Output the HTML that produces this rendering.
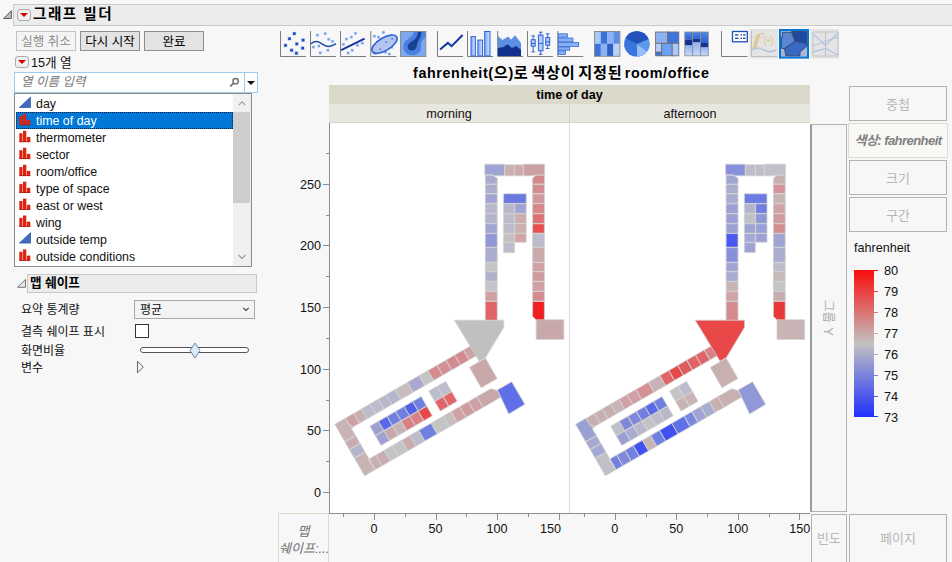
<!DOCTYPE html>
<html lang="ko"><head><meta charset="utf-8"><title>그래프 빌더</title>
<style>
*{box-sizing:border-box;margin:0;padding:0}
html,body{width:952px;height:562px;overflow:hidden;background:#f7f7f7}
body{position:relative;font-family:"Liberation Sans","Noto Sans CJK KR",sans-serif;font-size:12.5px;color:#111}
.a{position:absolute}
.t{position:absolute;white-space:nowrap;line-height:1}
.kr{font-family:"Liberation Sans","Noto Sans CJK KR",sans-serif}
.titlebar{left:13px;top:4px;width:945px;height:22px;background:#ececec;border:1px solid #c9c9c9}
.redbtn{width:14px;height:12px;border:1px solid #ababab;border-radius:3px;background:#efefef}
.redbtn:after{content:"";position:absolute;left:1.7px;top:2.9px;border-left:4.1px solid transparent;border-right:4.1px solid transparent;border-top:4.5px solid #d00000}
.btn{height:20px;border:1px solid #8f8f8f;background:#e3e3e3;text-align:center;font-size:12.5px;line-height:20px;color:#000}
.btn.dis{border-color:#c2c2c2;background:#f4f4f4;color:#8c8c8c}
.zone{border:1px solid #b4b4b4;color:#b6b6b6;text-align:center;font-size:13px}
.k2{font-size:15.2px;letter-spacing:0.75px}
.li{left:36px;font-size:12.4px;color:#111}
svg{position:absolute;left:0;top:0}
</style></head><body>
<!-- title bar -->
<div class="a titlebar"></div>
<div class="a redbtn" style="left:17px;top:9px"></div>
<div class="t kr" style="left:33px;top:6.5px;font-size:14.6px;letter-spacing:1.5px;font-weight:bold;color:#000">그래프 빌더</div>
<!-- buttons -->
<div class="a btn dis kr" style="left:16px;top:31px;width:60px">실행 취소</div>
<div class="a btn kr" style="left:80px;top:31px;width:60px">다시 시작</div>
<div class="a btn kr" style="left:144px;top:31px;width:60px">완료</div>
<div class="a redbtn" style="left:15px;top:56px;width:14px;height:12px"></div>
<div class="t kr" style="left:31px;top:56.5px;font-size:12.6px">15개 열</div>
<!-- search -->
<div class="a" style="left:14px;top:72px;width:244px;height:21px;background:#fff;border:1px solid #9fcdf0"></div>
<div class="a" style="left:244px;top:73px;width:1px;height:19px;background:#9fcdf0"></div>
<div class="t kr" style="left:21px;top:76px;font-size:12.5px;font-style:italic;color:#777">열 이름 입력</div>
<div class="a" style="left:246.800px;top:81px;border-left:4.1px solid transparent;border-right:4.1px solid transparent;border-top:4.4px solid #111"></div>
<!-- list -->
<div class="a" style="left:14px;top:93px;width:238px;height:174px;background:#fff;border:1px solid #8a8a8a"></div>
<div class="a" style="left:233px;top:94px;width:18px;height:172px;background:#f0f0f0"></div>
<div class="a" style="left:233px;top:112px;width:17px;height:91px;background:#cdcdcd"></div>
<div class="t li" style="top:98.3px;">day</div>
<div class="a" style="left:16px;top:112px;width:217px;height:17px;background:#0078d7;border:1px dotted #102040"></div>
<div class="t li" style="top:115.3px;color:#fff;">time of day</div>
<div class="t li" style="top:132.2px;">thermometer</div>
<div class="t li" style="top:149.2px;">sector</div>
<div class="t li" style="top:166.1px;">room/office</div>
<div class="t li" style="top:183.1px;">type of space</div>
<div class="t li" style="top:200.0px;">east or west</div>
<div class="t li" style="top:217.0px;">wing</div>
<div class="t li" style="top:233.9px;">outside temp</div>
<div class="t li" style="top:250.8px;">outside conditions</div>
<!-- map shape section -->
<div class="a" style="left:27px;top:274px;width:230px;height:19px;background:#ececec;border:1px solid #c9c9c9"></div>
<div class="t kr" style="left:30px;top:277px;font-size:12.6px;font-weight:bold;color:#000">맵 쉐이프</div>
<div class="t kr" style="left:21px;top:304px;font-size:12px">요약 통계량</div>
<div class="a" style="left:134px;top:300px;width:121px;height:19px;background:#f3f3f3;border:1px solid #a9a9a9"></div>
<div class="t kr" style="left:140px;top:304px;font-size:12px">평균</div>
<div class="t kr" style="left:21px;top:326px;font-size:12px">결측 쉐이프 표시</div>
<div class="a" style="left:135px;top:324px;width:14px;height:14px;background:#fff;border:1px solid #333"></div>
<div class="t kr" style="left:21px;top:345px;font-size:12px">화면비율</div>
<div class="a" style="left:140px;top:347px;width:109px;height:6px;background:#fff;border:1px solid #555;border-radius:3px"></div>
<div class="t kr" style="left:21px;top:361.5px;font-size:12px">변수</div>
<!-- graph title -->
<div class="t kr" style="left:413px;top:63.8px;height:18px;line-height:18px;font-size:14.3px;letter-spacing:0.62px;word-spacing:-2.2px;font-weight:bold;color:#000">fahrenheit(<span class="k2">으</span>)<span class="k2">로 색상이 지정된</span> room/office</div>
<!-- group header -->
<div class="a" style="left:329px;top:85px;width:481px;height:19px;background:#dbd9ca"></div>
<div class="a" style="left:329px;top:104px;width:481px;height:19px;background:#e8e7df;border-bottom:1px solid #d6d5c8"></div>
<div class="a" style="left:569px;top:104px;width:1px;height:19px;background:#d2d1c4"></div>
<div class="t" style="left:329px;width:481px;text-align:center;top:88.5px;font-size:12.6px;font-weight:bold;color:#000">time of day</div>
<div class="t" style="left:329px;width:240px;text-align:center;top:107.6px;font-size:12.6px">morning</div>
<div class="t" style="left:570px;width:240px;text-align:center;top:107.6px;font-size:12.6px">afternoon</div>
<!-- plot -->
<div class="a" style="left:330px;top:123px;width:480px;height:390px;background:#fff"></div>
<div class="a" style="left:569px;top:123px;width:1px;height:390px;background:#dcdcdc"></div>
<div class="t" style="right:631px;top:486.8px;font-size:12.6px">0</div>
<div class="t" style="right:631px;top:425.2px;font-size:12.6px">50</div>
<div class="t" style="right:631px;top:363.6px;font-size:12.6px">100</div>
<div class="t" style="right:631px;top:302.0px;font-size:12.6px">150</div>
<div class="t" style="right:631px;top:240.4px;font-size:12.6px">200</div>
<div class="t" style="right:631px;top:178.8px;font-size:12.6px">250</div>
<div class="t" style="left:353.9px;width:40px;text-align:center;top:522.5px;font-size:12.6px">0</div>
<div class="t" style="left:415.5px;width:40px;text-align:center;top:522.5px;font-size:12.6px">50</div>
<div class="t" style="left:477.0px;width:40px;text-align:center;top:522.5px;font-size:12.6px">100</div>
<div class="t" style="left:530.4px;width:40px;text-align:center;top:522.5px;font-size:12.6px">150</div>
<div class="t" style="left:594.7px;width:40px;text-align:center;top:522.5px;font-size:12.6px">0</div>
<div class="t" style="left:656.3px;width:40px;text-align:center;top:522.5px;font-size:12.6px">50</div>
<div class="t" style="left:717.8px;width:40px;text-align:center;top:522.5px;font-size:12.6px">100</div>
<div class="t" style="left:779.7px;width:40px;text-align:center;top:522.5px;font-size:12.6px">150</div>
<!-- drop zones -->
<div class="a zone kr" style="left:849px;top:86px;width:98px;height:35px;line-height:35px">중첩</div>
<div class="a kr" style="left:848px;top:123px;width:100px;height:35px;border:1px solid #dcdccc;background:#f8f8f5;text-align:center;line-height:33px;font-size:13px;font-style:italic;font-weight:bold;color:#808080;letter-spacing:-0.55px">색상: fahrenheit</div>
<div class="a zone kr" style="left:849px;top:160px;width:98px;height:35px;line-height:35px">크기</div>
<div class="a zone kr" style="left:849px;top:197px;width:98px;height:35px;line-height:35px">구간</div>
<div class="a zone" style="left:810px;top:124px;width:37px;height:388px;border-left:2px solid #9a9a9a"></div>
<div class="t kr" style="left:819.5px;top:311px;font-size:12.5px;color:#a9a9a9;word-spacing:1px;transform:rotate(90deg);transform-origin:center;width:14px;height:14px"><span style="position:absolute;left:-13px;top:0;width:40px;text-align:center">그룹 Y</span></div>
<div class="a zone kr" style="left:811px;top:514px;width:36px;height:49px;line-height:47px">빈도</div>
<div class="a zone kr" style="left:849px;top:514px;width:98px;height:49px;line-height:47px">페이지</div>
<div class="a kr" style="left:278px;top:513px;width:51px;height:50px;border:1px solid #dcdccc;text-align:center;font-size:13px;font-style:italic;color:#6e6e6e;line-height:17px;padding-top:8.5px;white-space:nowrap;letter-spacing:0px">맵<br>쉐이프:...</div>
<div class="t" style="left:854px;top:242px;font-size:12.6px">fahrenheit</div>
<div class="a" style="left:854px;top:270px;width:20px;height:147px;background:linear-gradient(#fb0c0c 0%,#c2c2c2 50%,#2030fb 100%)"></div>
<div class="a" style="left:874px;top:270px;width:4px;height:1px;background:#fb0c0c"></div>
<div class="t" style="left:884px;top:265.2px;font-size:12.8px">80</div>
<div class="a" style="left:874px;top:291px;width:4px;height:1px;background:#ea4040"></div>
<div class="t" style="left:884px;top:286.1px;font-size:12.8px">79</div>
<div class="a" style="left:874px;top:312px;width:4px;height:1px;background:#da7474"></div>
<div class="t" style="left:884px;top:307.1px;font-size:12.8px">78</div>
<div class="a" style="left:874px;top:333px;width:4px;height:1px;background:#caa8a8"></div>
<div class="t" style="left:884px;top:328.0px;font-size:12.8px">77</div>
<div class="a" style="left:874px;top:354px;width:4px;height:1px;background:#aaadca"></div>
<div class="t" style="left:884px;top:348.9px;font-size:12.8px">76</div>
<div class="a" style="left:874px;top:375px;width:4px;height:1px;background:#7c83da"></div>
<div class="t" style="left:884px;top:369.8px;font-size:12.8px">75</div>
<div class="a" style="left:874px;top:396px;width:4px;height:1px;background:#4e59ea"></div>
<div class="t" style="left:884px;top:390.8px;font-size:12.8px">74</div>
<div class="a" style="left:874px;top:416px;width:4px;height:1px;background:#2030fb"></div>
<div class="t" style="left:884px;top:411.7px;font-size:12.8px">73</div>
<svg width="952" height="562" viewBox="0 0 952 562">
<!-- disclosure triangles -->
<polygon points="3.6,18.5 11.4,18.5 11.4,10.700" fill="#bdbdbd" stroke="#5e5e5e" stroke-width="1"/>
<polygon points="17.600,287.300 25.5,287.300 25.5,279.400" fill="#e6e6e6" stroke="#6a6a6a" stroke-width="0.9"/>
<!-- search glass -->
<circle cx="235.6" cy="81.200" r="2.7" fill="none" stroke="#6c6c6c" stroke-width="1.4"/><line x1="233.6" y1="83.3" x2="230" y2="86.300" stroke="#6c6c6c" stroke-width="1.7"/>
<!-- scrollbar arrows -->
<polyline points="238.700,105.2 242,101.800 245.300,105.2" fill="none" stroke="#a0a0a0" stroke-width="1.2"/>
<polyline points="238.5,255 242,258.5 245.5,255" fill="none" stroke="#9a9a9a" stroke-width="1.1"/>
<!-- combobox chevron -->
<polyline points="243.300,307.800 246,310.500 248.700,307.800" fill="none" stroke="#3c3c3c" stroke-width="1.1"/>
<!-- slider thumb -->
<polygon points="195,343 200,350.5 195,358 190,350.5" fill="#dbe9f7" stroke="#5b7fa8" stroke-width="0.9"/>
<!-- var triangle -->
<polygon points="137.500,361.200 143.300,367 137.500,372.800" fill="#f4f4f4" stroke="#666" stroke-width="1"/>
<polygon points="19.4,107.5 30.5,107.5 30.5,97.1" fill="#3f6cc0" stroke="#27509e" stroke-width="0.7"/>
<rect x="19.3" y="116.2" width="3.2" height="8.8" fill="#de2410"/><rect x="23" y="113.9" width="3.3" height="11.2" fill="#de2410"/><rect x="26.800" y="120.0" width="3.5" height="5" fill="#de2410"/><rect x="19.3" y="124.5" width="11" height="0.8" fill="#a81808"/>
<rect x="19.3" y="133.2" width="3.2" height="8.8" fill="#de2410"/><rect x="23" y="130.8" width="3.3" height="11.2" fill="#de2410"/><rect x="26.800" y="137.0" width="3.5" height="5" fill="#de2410"/><rect x="19.3" y="141.4" width="11" height="0.8" fill="#a81808"/>
<rect x="19.3" y="150.2" width="3.2" height="8.8" fill="#de2410"/><rect x="23" y="147.8" width="3.3" height="11.2" fill="#de2410"/><rect x="26.800" y="153.9" width="3.5" height="5" fill="#de2410"/><rect x="19.3" y="158.3" width="11" height="0.8" fill="#a81808"/>
<rect x="19.3" y="167.1" width="3.2" height="8.8" fill="#de2410"/><rect x="23" y="164.7" width="3.3" height="11.2" fill="#de2410"/><rect x="26.800" y="170.9" width="3.5" height="5" fill="#de2410"/><rect x="19.3" y="175.3" width="11" height="0.8" fill="#a81808"/>
<rect x="19.3" y="184.1" width="3.2" height="8.8" fill="#de2410"/><rect x="23" y="181.7" width="3.3" height="11.2" fill="#de2410"/><rect x="26.800" y="187.8" width="3.5" height="5" fill="#de2410"/><rect x="19.3" y="192.2" width="11" height="0.8" fill="#a81808"/>
<rect x="19.3" y="201.0" width="3.2" height="8.8" fill="#de2410"/><rect x="23" y="198.6" width="3.3" height="11.2" fill="#de2410"/><rect x="26.800" y="204.8" width="3.5" height="5" fill="#de2410"/><rect x="19.3" y="209.2" width="11" height="0.8" fill="#a81808"/>
<rect x="19.3" y="217.9" width="3.2" height="8.8" fill="#de2410"/><rect x="23" y="215.5" width="3.3" height="11.2" fill="#de2410"/><rect x="26.800" y="221.7" width="3.5" height="5" fill="#de2410"/><rect x="19.3" y="226.1" width="11" height="0.8" fill="#a81808"/>
<polygon points="19.4,243.1 30.5,243.1 30.5,232.7" fill="#3f6cc0" stroke="#27509e" stroke-width="0.7"/>
<rect x="19.3" y="251.8" width="3.2" height="8.8" fill="#de2410"/><rect x="23" y="249.4" width="3.3" height="11.2" fill="#de2410"/><rect x="26.800" y="255.6" width="3.5" height="5" fill="#de2410"/><rect x="19.3" y="260.0" width="11" height="0.8" fill="#a81808"/>
<line x1="329.5" y1="123" x2="329.5" y2="513.5" stroke="#8c8c8c"/>
<line x1="329" y1="513.5" x2="810" y2="513.5" stroke="#8c8c8c"/>
<line x1="323" y1="492.5" x2="329" y2="492.5" stroke="#8c8c8c"/>
<line x1="326" y1="461.5" x2="329" y2="461.5" stroke="#8c8c8c"/>
<line x1="323" y1="430.5" x2="329" y2="430.5" stroke="#8c8c8c"/>
<line x1="326" y1="400.5" x2="329" y2="400.5" stroke="#8c8c8c"/>
<line x1="323" y1="369.5" x2="329" y2="369.5" stroke="#8c8c8c"/>
<line x1="326" y1="338.5" x2="329" y2="338.5" stroke="#8c8c8c"/>
<line x1="323" y1="307.5" x2="329" y2="307.5" stroke="#8c8c8c"/>
<line x1="326" y1="276.5" x2="329" y2="276.5" stroke="#8c8c8c"/>
<line x1="323" y1="245.5" x2="329" y2="245.5" stroke="#8c8c8c"/>
<line x1="326" y1="215.5" x2="329" y2="215.5" stroke="#8c8c8c"/>
<line x1="323" y1="184.5" x2="329" y2="184.5" stroke="#8c8c8c"/>
<line x1="326" y1="153.5" x2="329" y2="153.5" stroke="#8c8c8c"/>
<line x1="343.5" y1="514" x2="343.5" y2="517" stroke="#8c8c8c"/>
<line x1="374.5" y1="514" x2="374.5" y2="520" stroke="#8c8c8c"/>
<line x1="405.5" y1="514" x2="405.5" y2="517" stroke="#8c8c8c"/>
<line x1="436.5" y1="514" x2="436.5" y2="520" stroke="#8c8c8c"/>
<line x1="466.5" y1="514" x2="466.5" y2="517" stroke="#8c8c8c"/>
<line x1="497.5" y1="514" x2="497.5" y2="520" stroke="#8c8c8c"/>
<line x1="528.5" y1="514" x2="528.5" y2="517" stroke="#8c8c8c"/>
<line x1="559.5" y1="514" x2="559.5" y2="520" stroke="#8c8c8c"/>
<line x1="584.5" y1="514" x2="584.5" y2="517" stroke="#8c8c8c"/>
<line x1="615.5" y1="514" x2="615.5" y2="520" stroke="#8c8c8c"/>
<line x1="646.5" y1="514" x2="646.5" y2="517" stroke="#8c8c8c"/>
<line x1="676.5" y1="514" x2="676.5" y2="520" stroke="#8c8c8c"/>
<line x1="707.5" y1="514" x2="707.5" y2="517" stroke="#8c8c8c"/>
<line x1="738.5" y1="514" x2="738.5" y2="520" stroke="#8c8c8c"/>
<line x1="769.5" y1="514" x2="769.5" y2="517" stroke="#8c8c8c"/>
<line x1="799.5" y1="514" x2="799.5" y2="520" stroke="#8c8c8c"/>
<g stroke="#d0d0d0" stroke-width="0.8" stroke-linejoin="round">
<polygon points="484.8,164.2 504.4,164.2 504.4,175.8 494.5,175.8 492.5,174.8 484.8,174.8" fill="#a0a4d4"/>
<polygon points="504.9,164.8 514.2,164.8 514.2,175.8 504.9,175.8" fill="#ccb0b0"/>
<polygon points="514.7,164.8 523.2,164.8 523.2,175.8 514.7,175.8" fill="#ccaaac"/>
<polygon points="523.7,164.2 544.6,164.2 544.6,175.0 535.0,175.0 533.0,175.8 523.7,175.8" fill="#cca0a2"/>
<polygon points="485.3,175.2 492.5,175.2 497.2,178.2 497.2,184.0 485.3,184.0" fill="#a8a8d0"/>
<polygon points="532.6,178.2 536.0,175.2 544.4,175.2 544.4,184.0 532.6,184.0" fill="#d4888c"/>
<polygon points="485.3,184.4 497.2,184.4 497.2,193.6 485.3,193.6" fill="#acaccc"/>
<polygon points="532.6,184.4 544.4,184.4 544.4,193.6 532.6,193.6" fill="#d48c90"/>
<polygon points="485.3,194.0 497.2,194.0 497.2,203.4 485.3,203.4" fill="#a4a4d4"/>
<polygon points="532.6,194.0 544.4,194.0 544.4,203.4 532.6,203.4" fill="#d09a9c"/>
<polygon points="485.3,203.8 497.2,203.8 497.2,213.4 485.3,213.4" fill="#b8b8cc"/>
<polygon points="532.6,203.8 544.4,203.8 544.4,213.4 532.6,213.4" fill="#d8868a"/>
<polygon points="485.3,213.8 497.2,213.8 497.2,223.4 485.3,223.4" fill="#b4b4cc"/>
<polygon points="532.6,213.8 544.4,213.8 544.4,223.4 532.6,223.4" fill="#dc7074"/>
<polygon points="485.3,223.8 497.2,223.8 497.2,233.2 485.3,233.2" fill="#a0a4d4"/>
<polygon points="532.6,223.8 544.4,223.8 544.4,233.2 532.6,233.2" fill="#e85050"/>
<polygon points="485.3,233.6 497.2,233.6 497.2,247.2 485.3,247.2" fill="#9098d8"/>
<polygon points="532.6,233.6 544.4,233.6 544.4,247.2 532.6,247.2" fill="#bcbccc"/>
<polygon points="485.3,247.6 497.2,247.6 497.2,262.2 485.3,262.2" fill="#acacd0"/>
<polygon points="532.6,247.6 544.4,247.6 544.4,262.2 532.6,262.2" fill="#ccaaac"/>
<polygon points="485.3,262.6 497.2,262.6 497.2,271.4 485.3,271.4" fill="#c4c4c4"/>
<polygon points="532.6,262.6 544.4,262.6 544.4,271.4 532.6,271.4" fill="#d0a0a4"/>
<polygon points="485.3,271.8 497.2,271.8 497.2,281.2 485.3,281.2" fill="#b0b0cc"/>
<polygon points="532.6,271.8 544.4,271.8 544.4,281.2 532.6,281.2" fill="#d09a9e"/>
<polygon points="485.3,281.6 497.2,281.6 497.2,291.2 485.3,291.2" fill="#c4c4c8"/>
<polygon points="532.6,281.6 544.4,281.6 544.4,291.2 532.6,291.2" fill="#d0a0a4"/>
<polygon points="485.3,291.6 497.2,291.6 497.2,301.0 485.3,301.0" fill="#d0a0a4"/>
<polygon points="532.6,291.6 544.4,291.6 544.4,301.0 532.6,301.0" fill="#d48a8e"/>
<polygon points="485.3,301.4 497.2,301.4 497.2,320.6 485.3,320.6" fill="#e06468"/>
<polygon points="532.6,301.4 544.4,301.4 544.4,320.6 536.6,320.6 532.6,316.2" fill="#f02020"/>
<polygon points="503.6,193.8 526.2,193.8 526.2,203.4 503.6,203.4" fill="#6a78e0"/>
<polygon points="503.6,203.8 514.5,203.8 514.5,213.4 503.6,213.4" fill="#b8b8cc"/>
<polygon points="514.9,203.8 526.2,203.8 526.2,213.4 514.9,213.4" fill="#a0a4d4"/>
<polygon points="503.6,213.8 514.5,213.8 514.5,223.4 503.6,223.4" fill="#bcbccc"/>
<polygon points="514.9,213.8 526.2,213.8 526.2,223.4 514.9,223.4" fill="#ccacae"/>
<polygon points="503.6,223.8 514.5,223.8 514.5,233.2 503.6,233.2" fill="#bcbccc"/>
<polygon points="514.9,223.8 526.2,223.8 526.2,233.2 514.9,233.2" fill="#ccb0b0"/>
<polygon points="503.6,233.6 514.5,233.6 514.5,242.2 503.6,242.2" fill="#c8c0c0"/>
<polygon points="514.9,233.6 526.2,233.6 526.2,242.2 514.9,242.2" fill="#d0a4a6"/>
<polygon points="503.6,242.6 514.5,242.6 514.5,252.6 503.6,252.6" fill="#bcbccc"/>
<polygon points="536.2,319.8 563.8,319.8 563.8,339.4 536.2,339.4" fill="#c8a8a8"/>
<polygon points="334.8,424.3 345.2,418.3 349.4,425.7 353.7,427.0 351.4,428.4 355.5,435.5 344.8,441.6" fill="#c8b4b4"/>
<polygon points="345.0,442.0 355.7,435.8 360.0,443.3 349.3,449.4" fill="#c8acb0"/>
<polygon points="349.5,449.8 360.2,443.6 365.0,451.9 354.3,458.1" fill="#b4b4cc"/>
<polygon points="354.5,458.4 365.2,452.3 368.9,458.7 368.2,459.0 375.1,469.7 364.6,475.8" fill="#c8b4b4"/>
<polygon points="345.5,418.2 353.6,413.4 359.3,423.3 353.7,426.6 349.6,425.3" fill="#d0a0a4"/>
<polygon points="353.8,413.4 361.5,408.9 367.2,418.8 359.5,423.2" fill="#c8b0b0"/>
<polygon points="361.6,408.8 369.9,404.1 375.6,413.9 367.3,418.7" fill="#bcbccc"/>
<polygon points="370.0,403.9 378.1,399.3 383.8,409.2 375.7,413.8" fill="#bcbccc"/>
<polygon points="378.3,399.2 386.2,394.7 391.9,404.5 384.0,409.1" fill="#b8b8cc"/>
<polygon points="386.3,394.6 395.0,389.6 400.7,399.4 392.0,404.4" fill="#b4b4d0"/>
<polygon points="395.2,389.5 407.4,382.4 413.1,392.3 400.9,399.3" fill="#c8bcbc"/>
<polygon points="407.5,382.3 419.0,375.7 424.7,385.6 413.2,392.2" fill="#a8a8d0"/>
<polygon points="419.2,375.6 427.9,370.6 433.6,380.4 424.9,385.5" fill="#c4c4c4"/>
<polygon points="428.1,370.5 436.8,365.4 442.5,375.3 433.8,380.3" fill="#d48a8e"/>
<polygon points="437.0,365.3 445.8,360.2 451.5,370.1 442.7,375.2" fill="#d49094"/>
<polygon points="446.0,360.1 454.7,355.1 460.4,365.0 451.7,370.0" fill="#d48a8e"/>
<polygon points="454.8,355.0 463.4,350.1 469.1,359.9 460.5,364.9" fill="#d48a8e"/>
<polygon points="463.6,350.0 476.2,342.7 481.9,352.5 469.3,359.8" fill="#d0a0a4"/>
<polygon points="369.2,458.9 375.8,455.1 382.0,465.8 375.4,469.6" fill="#c8b0b0"/>
<polygon points="376.0,455.0 384.1,450.4 390.2,461.0 382.1,465.7" fill="#c8acb0"/>
<polygon points="384.3,450.3 392.3,445.6 398.5,456.2 390.4,460.9" fill="#c4c4c4"/>
<polygon points="392.5,445.5 401.5,440.3 407.7,450.9 398.7,456.1" fill="#c4c4c4"/>
<polygon points="401.7,440.2 409.8,435.5 415.9,446.2 407.9,450.8" fill="#c8acb0"/>
<polygon points="409.9,435.4 418.7,430.4 424.8,441.0 416.1,446.1" fill="#bcbccc"/>
<polygon points="418.8,430.3 431.0,423.3 437.1,433.9 425.0,440.9" fill="#7080e0"/>
<polygon points="431.1,423.2 443.2,416.2 449.3,426.9 437.3,433.8" fill="#c4c4c4"/>
<polygon points="443.4,416.1 451.0,411.7 457.1,422.4 449.5,426.8" fill="#c8bcbc"/>
<polygon points="451.2,411.6 459.6,406.7 465.8,417.4 457.3,422.3" fill="#d0a0a4"/>
<polygon points="459.8,406.6 468.3,401.7 474.4,412.4 466.0,417.3" fill="#d09a9e"/>
<polygon points="468.5,401.6 477.0,396.7 483.1,407.4 474.6,412.3" fill="#d0a0a4"/>
<polygon points="477.1,396.6 490.9,388.7 497.1,390.6 500.9,397.1 483.3,407.3" fill="#c8a8a8"/>
<polygon points="369.9,426.2 378.3,421.3 383.7,430.7 375.3,435.5" fill="#a0a0d0"/>
<polygon points="375.5,435.9 383.9,431.0 389.4,440.6 381.0,445.4" fill="#a0a0d4"/>
<polygon points="378.5,421.2 386.9,416.4 392.3,425.7 383.9,430.6" fill="#5868e8"/>
<polygon points="384.1,430.9 392.5,426.1 398.0,435.6 389.6,440.5" fill="#c8a8ac"/>
<polygon points="387.1,416.3 395.5,411.4 400.9,420.8 392.5,425.6" fill="#7080e0"/>
<polygon points="392.7,426.0 401.1,421.1 406.6,430.7 398.2,435.5" fill="#c8b4b4"/>
<polygon points="395.7,411.3 404.1,406.5 409.5,415.8 401.1,420.7" fill="#7080e0"/>
<polygon points="401.3,421.0 409.7,416.2 415.2,425.7 406.8,430.6" fill="#d88084"/>
<polygon points="404.2,406.4 412.6,401.5 418.0,410.9 409.6,415.7" fill="#5060e8"/>
<polygon points="409.8,416.1 418.2,411.2 423.7,420.8 415.3,425.6" fill="#d88084"/>
<polygon points="412.8,401.4 421.2,396.6 426.6,405.9 418.2,410.8" fill="#7080e0"/>
<polygon points="418.4,411.1 426.8,406.3 432.3,415.8 423.9,420.7" fill="#e84848"/>
<polygon points="428.8,391.1 437.0,386.4 442.8,396.4 434.6,401.1" fill="#bcbccc"/>
<polygon points="437.4,386.2 445.7,381.4 451.5,391.4 443.1,396.2" fill="#bcbccc"/>
<polygon points="434.8,401.5 443.0,396.7 448.5,406.3 440.3,411.1" fill="#e06468"/>
<polygon points="443.3,396.5 451.7,391.7 457.2,401.3 448.9,406.1" fill="#e06468"/>
<polygon points="469.5,367.4 485.4,358.2 497.1,378.5 481.2,387.7" fill="#c8a8a8"/>
<polygon points="511.7,381.8 524.8,404.3 508.8,414.0 497.4,389.9" fill="#6070e8"/>
<polygon points="454.4,320.2 503.8,320.2 503.8,327.2 485.6,357.6 479.2,361.2" fill="#c0c0c0"/>
</g>
<g stroke="#d0d0d0" stroke-width="0.8" stroke-linejoin="round">
<polygon points="725.6,164.2 745.2,164.2 745.2,175.8 735.3,175.8 733.3,174.8 725.6,174.8" fill="#8890dc"/>
<polygon points="745.7,164.8 755.0,164.8 755.0,175.8 745.7,175.8" fill="#bcbccc"/>
<polygon points="755.5,164.8 764.0,164.8 764.0,175.8 755.5,175.8" fill="#bebec8"/>
<polygon points="764.5,164.2 785.4,164.2 785.4,175.0 775.8,175.0 773.8,175.8 764.5,175.8" fill="#c0c0c8"/>
<polygon points="726.1,175.2 733.3,175.2 738.0,178.2 738.0,184.0 726.1,184.0" fill="#a0a4d4"/>
<polygon points="773.4,178.2 776.8,175.2 785.2,175.2 785.2,184.0 773.4,184.0" fill="#c8b0b0"/>
<polygon points="726.1,184.4 738.0,184.4 738.0,193.6 726.1,193.6" fill="#acacd0"/>
<polygon points="773.4,184.4 785.2,184.4 785.2,193.6 773.4,193.6" fill="#d49498"/>
<polygon points="726.1,194.0 738.0,194.0 738.0,203.4 726.1,203.4" fill="#a8acd0"/>
<polygon points="773.4,194.0 785.2,194.0 785.2,203.4 773.4,203.4" fill="#c8b4b4"/>
<polygon points="726.1,203.8 738.0,203.8 738.0,213.4 726.1,213.4" fill="#9ca0d4"/>
<polygon points="773.4,203.8 785.2,203.8 785.2,213.4 773.4,213.4" fill="#d0a4a6"/>
<polygon points="726.1,213.8 738.0,213.8 738.0,223.4 726.1,223.4" fill="#9ca0d4"/>
<polygon points="773.4,213.8 785.2,213.8 785.2,223.4 773.4,223.4" fill="#d09a9e"/>
<polygon points="726.1,223.8 738.0,223.8 738.0,233.2 726.1,233.2" fill="#98a0d4"/>
<polygon points="773.4,223.8 785.2,223.8 785.2,233.2 773.4,233.2" fill="#d48c90"/>
<polygon points="726.1,233.6 738.0,233.6 738.0,247.2 726.1,247.2" fill="#4858f0"/>
<polygon points="773.4,233.6 785.2,233.6 785.2,247.2 773.4,247.2" fill="#a0a4d4"/>
<polygon points="726.1,247.6 738.0,247.6 738.0,262.2 726.1,262.2" fill="#8890dc"/>
<polygon points="773.4,247.6 785.2,247.6 785.2,262.2 773.4,262.2" fill="#acacd0"/>
<polygon points="726.1,262.6 738.0,262.6 738.0,271.4 726.1,271.4" fill="#a0a4d4"/>
<polygon points="773.4,262.6 785.2,262.6 785.2,271.4 773.4,271.4" fill="#bcbccc"/>
<polygon points="726.1,271.8 738.0,271.8 738.0,281.2 726.1,281.2" fill="#a8acd0"/>
<polygon points="773.4,271.8 785.2,271.8 785.2,281.2 773.4,281.2" fill="#c8b8b8"/>
<polygon points="726.1,281.6 738.0,281.6 738.0,291.2 726.1,291.2" fill="#c8b4b4"/>
<polygon points="773.4,281.6 785.2,281.6 785.2,291.2 773.4,291.2" fill="#c4c4c4"/>
<polygon points="726.1,291.6 738.0,291.6 738.0,301.0 726.1,301.0" fill="#d0a4a6"/>
<polygon points="773.4,291.6 785.2,291.6 785.2,301.0 773.4,301.0" fill="#c8acb0"/>
<polygon points="726.1,301.4 738.0,301.4 738.0,320.6 726.1,320.6" fill="#d48a8e"/>
<polygon points="773.4,301.4 785.2,301.4 785.2,320.6 777.4,320.6 773.4,316.2" fill="#e83838"/>
<polygon points="744.4,193.8 767.0,193.8 767.0,203.4 744.4,203.4" fill="#6c7ce4"/>
<polygon points="744.4,203.8 755.3,203.8 755.3,213.4 744.4,213.4" fill="#b4b4cc"/>
<polygon points="755.7,203.8 767.0,203.8 767.0,213.4 755.7,213.4" fill="#7080e0"/>
<polygon points="744.4,213.8 755.3,213.8 755.3,223.4 744.4,223.4" fill="#c0c0c8"/>
<polygon points="755.7,213.8 767.0,213.8 767.0,223.4 755.7,223.4" fill="#9098d8"/>
<polygon points="744.4,223.8 755.3,223.8 755.3,233.2 744.4,233.2" fill="#a0a4d4"/>
<polygon points="755.7,223.8 767.0,223.8 767.0,233.2 755.7,233.2" fill="#98a0d8"/>
<polygon points="744.4,233.6 755.3,233.6 755.3,242.2 744.4,242.2" fill="#a4a8d4"/>
<polygon points="755.7,233.6 767.0,233.6 767.0,242.2 755.7,242.2" fill="#9ca0d4"/>
<polygon points="744.4,242.6 755.3,242.6 755.3,252.6 744.4,252.6" fill="#a0a4d4"/>
<polygon points="777.0,319.8 804.6,319.8 804.6,339.4 777.0,339.4" fill="#c8b4b4"/>
<polygon points="575.6,424.3 586.0,418.3 590.2,425.7 594.5,427.0 592.2,428.4 596.3,435.5 585.6,441.6" fill="#9aa0d4"/>
<polygon points="585.8,442.0 596.5,435.8 600.8,443.3 590.1,449.4" fill="#a8a8d0"/>
<polygon points="590.3,449.8 601.0,443.6 605.8,451.9 595.1,458.1" fill="#a4a8d4"/>
<polygon points="595.3,458.4 606.0,452.3 609.7,458.7 609.0,459.0 615.9,469.7 605.4,475.8" fill="#c0c0c8"/>
<polygon points="586.3,418.2 594.4,413.4 600.1,423.3 594.5,426.6 590.4,425.3" fill="#c8b0b0"/>
<polygon points="594.6,413.4 602.3,408.9 608.0,418.8 600.3,423.2" fill="#c8b0b0"/>
<polygon points="602.4,408.8 610.7,404.1 616.4,413.9 608.1,418.7" fill="#c8b0b0"/>
<polygon points="610.8,403.9 618.9,399.3 624.6,409.2 616.5,413.8" fill="#c8b4b4"/>
<polygon points="619.1,399.2 627.0,394.7 632.7,404.5 624.8,409.1" fill="#d0a0a4"/>
<polygon points="627.1,394.6 635.8,389.6 641.5,399.4 632.8,404.4" fill="#d0a0a4"/>
<polygon points="636.0,389.5 648.2,382.4 653.9,392.3 641.7,399.3" fill="#d49094"/>
<polygon points="648.3,382.3 659.8,375.7 665.5,385.6 654.0,392.2" fill="#c8b4b4"/>
<polygon points="660.0,375.6 668.7,370.6 674.4,380.4 665.7,385.5" fill="#e06468"/>
<polygon points="668.9,370.5 677.6,365.4 683.3,375.3 674.6,380.3" fill="#e84848"/>
<polygon points="677.8,365.3 686.6,360.2 692.3,370.1 683.5,375.2" fill="#e05a5e"/>
<polygon points="686.8,360.1 695.5,355.1 701.2,365.0 692.5,370.0" fill="#e06468"/>
<polygon points="695.6,355.0 704.2,350.1 709.9,359.9 701.3,364.9" fill="#e06468"/>
<polygon points="704.4,350.0 717.0,342.7 722.7,352.5 710.1,359.8" fill="#d88084"/>
<polygon points="610.0,458.9 616.6,455.1 622.8,465.8 616.2,469.6" fill="#7080e0"/>
<polygon points="616.8,455.0 624.9,450.4 631.0,461.0 622.9,465.7" fill="#8088dc"/>
<polygon points="625.1,450.3 633.1,445.6 639.3,456.2 631.2,460.9" fill="#7080e0"/>
<polygon points="633.3,445.5 642.3,440.3 648.5,450.9 639.5,456.1" fill="#4050f0"/>
<polygon points="642.5,440.2 650.6,435.5 656.7,446.2 648.7,450.8" fill="#c8b4b4"/>
<polygon points="650.7,435.4 659.5,430.4 665.6,441.0 656.9,446.1" fill="#7080e0"/>
<polygon points="659.6,430.3 671.8,423.3 677.9,433.9 665.8,440.9" fill="#4050f0"/>
<polygon points="671.9,423.2 684.0,416.2 690.1,426.9 678.1,433.8" fill="#6070e8"/>
<polygon points="684.2,416.1 691.8,411.7 697.9,422.4 690.3,426.8" fill="#7888e0"/>
<polygon points="692.0,411.6 700.4,406.7 706.6,417.4 698.1,422.3" fill="#a0a4d4"/>
<polygon points="700.6,406.6 709.1,401.7 715.2,412.4 706.8,417.3" fill="#a8acd0"/>
<polygon points="709.3,401.6 717.8,396.7 723.9,407.4 715.4,412.3" fill="#c8b0b0"/>
<polygon points="717.9,396.6 731.7,388.7 737.9,390.6 741.7,397.1 724.1,407.3" fill="#c8b0b0"/>
<polygon points="610.7,426.2 619.1,421.3 624.5,430.7 616.1,435.5" fill="#c0c0c8"/>
<polygon points="616.3,435.9 624.7,431.0 630.2,440.6 621.8,445.4" fill="#9aa0d4"/>
<polygon points="619.3,421.2 627.7,416.4 633.1,425.7 624.7,430.6" fill="#8088dc"/>
<polygon points="624.9,430.9 633.3,426.1 638.8,435.6 630.4,440.5" fill="#a8acd0"/>
<polygon points="627.9,416.3 636.3,411.4 641.7,420.8 633.3,425.6" fill="#8088dc"/>
<polygon points="633.5,426.0 641.9,421.1 647.4,430.7 639.0,435.5" fill="#b8b8cc"/>
<polygon points="636.5,411.3 644.9,406.5 650.3,415.8 641.9,420.7" fill="#7080e0"/>
<polygon points="642.1,421.0 650.5,416.2 656.0,425.7 647.6,430.6" fill="#c4c4c4"/>
<polygon points="645.0,406.4 653.4,401.5 658.8,410.9 650.4,415.7" fill="#5868e8"/>
<polygon points="650.6,416.1 659.0,411.2 664.5,420.8 656.1,425.6" fill="#bcbccc"/>
<polygon points="653.6,401.4 662.0,396.6 667.4,405.9 659.0,410.8" fill="#7080e0"/>
<polygon points="659.2,411.1 667.6,406.3 673.1,415.8 664.7,420.7" fill="#b8b8cc"/>
<polygon points="669.6,391.1 677.8,386.4 683.6,396.4 675.4,401.1" fill="#c4c4c4"/>
<polygon points="678.2,386.2 686.5,381.4 692.3,391.4 683.9,396.2" fill="#bcbccc"/>
<polygon points="675.6,401.5 683.8,396.7 689.3,406.3 681.1,411.1" fill="#c8b4b4"/>
<polygon points="684.1,396.5 692.5,391.7 698.0,401.3 689.7,406.1" fill="#c8b4b4"/>
<polygon points="710.3,367.4 726.2,358.2 737.9,378.5 722.0,387.7" fill="#c8b0b0"/>
<polygon points="752.5,381.8 765.6,404.3 749.6,414.0 738.2,389.9" fill="#9098d8"/>
<polygon points="695.2,320.2 744.6,320.2 744.6,327.2 726.4,357.6 720.0,361.2" fill="#e84848"/>
</g>
<defs><linearGradient id="gbar" x1="0" y1="0" x2="1" y2="0"><stop offset="0" stop-color="#7eaaf4"/><stop offset="1" stop-color="#cfe0ff"/></linearGradient><linearGradient id="gmos1" x1="0" y1="0" x2="0" y2="1"><stop offset="0" stop-color="#4f88ea"/><stop offset="1" stop-color="#2a62cc"/></linearGradient><linearGradient id="gmos2" x1="0" y1="0" x2="0" y2="1"><stop offset="0" stop-color="#8db2f2"/><stop offset="1" stop-color="#c6dafc"/></linearGradient></defs>
<path d="M280.5 31 V56.5 H306" fill="none" stroke="#7d7d7d" stroke-width="1"/>
<rect x="292.4" y="31.8" width="3.7" height="3.7" fill="#8fb4ee" fill-opacity="0.7"/>
<rect x="293.0" y="32.3" width="2.6" height="2.6" fill="#1c4cb8"/>
<rect x="287.6" y="36.9" width="3.7" height="3.7" fill="#8fb4ee" fill-opacity="0.7"/>
<rect x="288.2" y="37.4" width="2.6" height="2.6" fill="#1c4cb8"/>
<rect x="301.2" y="38.3" width="3.7" height="3.7" fill="#8fb4ee" fill-opacity="0.7"/>
<rect x="301.8" y="38.8" width="2.6" height="2.6" fill="#1c4cb8"/>
<rect x="283.6" y="43.6" width="3.7" height="3.7" fill="#8fb4ee" fill-opacity="0.7"/>
<rect x="284.2" y="44.1" width="2.6" height="2.6" fill="#1c4cb8"/>
<rect x="294.9" y="42.1" width="3.7" height="3.7" fill="#8fb4ee" fill-opacity="0.7"/>
<rect x="295.5" y="42.6" width="2.6" height="2.6" fill="#1c4cb8"/>
<rect x="300.8" y="46.3" width="3.7" height="3.7" fill="#8fb4ee" fill-opacity="0.7"/>
<rect x="301.4" y="46.8" width="2.6" height="2.6" fill="#1c4cb8"/>
<rect x="289.8" y="48.4" width="3.7" height="3.7" fill="#8fb4ee" fill-opacity="0.7"/>
<rect x="290.3" y="48.9" width="2.6" height="2.6" fill="#1c4cb8"/>
<rect x="294.5" y="51.4" width="3.7" height="3.7" fill="#8fb4ee" fill-opacity="0.7"/>
<rect x="295.1" y="51.9" width="2.6" height="2.6" fill="#1c4cb8"/>
<path d="M310.5 31 V56.5 H336" fill="none" stroke="#7d7d7d" stroke-width="1"/>
<rect x="315.7" y="33.5" width="3.3" height="3.3" fill="#c3d8f8" fill-opacity="0.7"/>
<rect x="316.3" y="34.0" width="2.2" height="2.2" fill="#6f9ee6"/>
<rect x="323.5" y="31.9" width="3.3" height="3.3" fill="#c3d8f8" fill-opacity="0.7"/>
<rect x="324.1" y="32.5" width="2.2" height="2.2" fill="#6f9ee6"/>
<rect x="327.0" y="37.6" width="3.3" height="3.3" fill="#c3d8f8" fill-opacity="0.7"/>
<rect x="327.6" y="38.2" width="2.2" height="2.2" fill="#6f9ee6"/>
<rect x="330.8" y="39.8" width="3.3" height="3.3" fill="#c3d8f8" fill-opacity="0.7"/>
<rect x="331.4" y="40.3" width="2.2" height="2.2" fill="#6f9ee6"/>
<rect x="311.7" y="45.5" width="3.3" height="3.3" fill="#c3d8f8" fill-opacity="0.7"/>
<rect x="312.3" y="46.0" width="2.2" height="2.2" fill="#6f9ee6"/>
<rect x="317.2" y="44.4" width="3.3" height="3.3" fill="#c3d8f8" fill-opacity="0.7"/>
<rect x="317.8" y="44.9" width="2.2" height="2.2" fill="#6f9ee6"/>
<rect x="326.2" y="48.6" width="3.3" height="3.3" fill="#c3d8f8" fill-opacity="0.7"/>
<rect x="326.8" y="49.1" width="2.2" height="2.2" fill="#6f9ee6"/>
<rect x="318.6" y="51.2" width="3.3" height="3.3" fill="#c3d8f8" fill-opacity="0.7"/>
<rect x="319.2" y="51.8" width="2.2" height="2.2" fill="#6f9ee6"/>
<path d="M311 43.800 C313.500 41.6 316.500 41 319.500 42.400 C322.500 43.800 325 46.600 328.500 46.600 C331.500 46.600 333.500 45 336 43.800" fill="none" stroke="#2248a8" stroke-width="1.5"/>
<path d="M340.5 31 V56.5 H366" fill="none" stroke="#7d7d7d" stroke-width="1"/>
<rect x="353.8" y="31.7" width="3.3" height="3.3" fill="#c3d8f8" fill-opacity="0.7"/>
<rect x="354.4" y="32.3" width="2.2" height="2.2" fill="#6f9ee6"/>
<rect x="349.7" y="35.5" width="3.3" height="3.3" fill="#c3d8f8" fill-opacity="0.7"/>
<rect x="350.3" y="36.0" width="2.2" height="2.2" fill="#6f9ee6"/>
<rect x="344.8" y="37.5" width="3.3" height="3.3" fill="#c3d8f8" fill-opacity="0.7"/>
<rect x="345.4" y="38.0" width="2.2" height="2.2" fill="#6f9ee6"/>
<rect x="341.7" y="42.8" width="3.3" height="3.3" fill="#c3d8f8" fill-opacity="0.7"/>
<rect x="342.3" y="43.3" width="2.2" height="2.2" fill="#6f9ee6"/>
<rect x="360.7" y="41.6" width="3.3" height="3.3" fill="#c3d8f8" fill-opacity="0.7"/>
<rect x="361.3" y="42.1" width="2.2" height="2.2" fill="#6f9ee6"/>
<rect x="355.8" y="43.6" width="3.3" height="3.3" fill="#c3d8f8" fill-opacity="0.7"/>
<rect x="356.4" y="44.2" width="2.2" height="2.2" fill="#6f9ee6"/>
<rect x="350.5" y="48.6" width="3.3" height="3.3" fill="#c3d8f8" fill-opacity="0.7"/>
<rect x="351.1" y="49.2" width="2.2" height="2.2" fill="#6f9ee6"/>
<rect x="346.4" y="51.4" width="3.3" height="3.3" fill="#c3d8f8" fill-opacity="0.7"/>
<rect x="347.0" y="51.9" width="2.2" height="2.2" fill="#6f9ee6"/>
<line x1="341.2" y1="50.200" x2="364.6" y2="38.6" stroke="#16389c" stroke-width="2"/>
<path d="M370.8 31 V56.5 H396.3" fill="none" stroke="#7d7d7d" stroke-width="1"/>
<rect x="381.7" y="30.7" width="3.3" height="3.3" fill="#c3d8f8" fill-opacity="0.7"/>
<rect x="382.3" y="31.3" width="2.2" height="2.2" fill="#6f9ee6"/>
<rect x="372.7" y="34.6" width="3.3" height="3.3" fill="#c3d8f8" fill-opacity="0.7"/>
<rect x="373.3" y="35.1" width="2.2" height="2.2" fill="#6f9ee6"/>
<rect x="376.8" y="35.5" width="3.3" height="3.3" fill="#c3d8f8" fill-opacity="0.7"/>
<rect x="377.4" y="36.0" width="2.2" height="2.2" fill="#6f9ee6"/>
<rect x="390.7" y="37.1" width="3.3" height="3.3" fill="#c3d8f8" fill-opacity="0.7"/>
<rect x="391.3" y="37.7" width="2.2" height="2.2" fill="#6f9ee6"/>
<rect x="389.9" y="45.6" width="3.3" height="3.3" fill="#c3d8f8" fill-opacity="0.7"/>
<rect x="390.5" y="46.2" width="2.2" height="2.2" fill="#6f9ee6"/>
<rect x="383.8" y="50.6" width="3.3" height="3.3" fill="#c3d8f8" fill-opacity="0.7"/>
<rect x="384.4" y="51.1" width="2.2" height="2.2" fill="#6f9ee6"/>
<rect x="372.9" y="51.6" width="3.3" height="3.3" fill="#c3d8f8" fill-opacity="0.7"/>
<rect x="373.5" y="52.2" width="2.2" height="2.2" fill="#6f9ee6"/>
<rect x="387.7" y="52.4" width="3.3" height="3.3" fill="#c3d8f8" fill-opacity="0.7"/>
<rect x="388.3" y="52.9" width="2.2" height="2.2" fill="#6f9ee6"/>
<ellipse cx="384.5" cy="44.200" rx="14.2" ry="6.4" transform="rotate(-31 384.5 44.2)" fill="#a4b8ee" fill-opacity="0.8" stroke="#2f62d4" stroke-width="1.6"/>
<rect x="384.6" y="40.6" width="3.1" height="3.1" fill="#b4caf4" fill-opacity="0.7"/>
<rect x="385.2" y="41.1" width="2.0" height="2.0" fill="#6a94e4"/>
<rect x="378.6" y="47.8" width="3.1" height="3.1" fill="#b4caf4" fill-opacity="0.7"/>
<rect x="379.1" y="48.3" width="2.0" height="2.0" fill="#6a94e4"/>
<rect x="390.6" y="37.5" width="3.1" height="3.1" fill="#b4caf4" fill-opacity="0.7"/>
<rect x="391.2" y="38.0" width="2.0" height="2.0" fill="#6a94e4"/>
<rect x="400.5" y="31.500" width="25.3" height="25" fill="#7ea8ee" stroke="#8c8c8c" stroke-width="1"/>
<path d="M413.500 32 C413.500 36.500 408 38 404.800 42 C401.800 46.500 403.500 53 409.500 54.800 C416.500 56.500 422 52 421 46 C420.300 42 423 39 425.300 37.500 V32 Z" fill="#4a80e2"/>
<path d="M417.800 32 C417.800 35.500 416 38.500 413.500 40.300 C410.500 42 407.300 44 407.800 47.200 C408.300 50.300 412 51.300 414.600 49.700 C417.200 48 416.600 45 417.600 42.500 C418.600 40 421.200 37 421.600 32 Z" fill="#1a4092"/>
<path d="M437.5 31 V56.5 H463" fill="none" stroke="#7d7d7d" stroke-width="1"/>
<polyline points="440.1,49.4 447.9,42.9 451.600,46.200 462.6,35" fill="none" stroke="#16389c" stroke-width="2"/>
<path d="M467.5 31 V56.5 H493" fill="none" stroke="#7d7d7d" stroke-width="1"/>
<rect x="471" y="36.6" width="4.4" height="19.4" fill="url(#gbar)" stroke="#2f62d4" stroke-width="1"/>
<rect x="477.9" y="40.1" width="4.7" height="15.9" fill="url(#gbar)" stroke="#2f62d4" stroke-width="1"/>
<rect x="484.7" y="31.5" width="5.3" height="24.5" fill="url(#gbar)" stroke="#2f62d4" stroke-width="1"/>
<path d="M497.7 31 V56.5 H523.2" fill="none" stroke="#7d7d7d" stroke-width="1"/>
<polygon points="497.8,35.9 502.500,40.1 508.2,36.400 510.9,39.700 515.1,35.3 521,43 521,56 497.8,56" fill="#5b8fe2"/>
<polygon points="497.8,48.1 503.5,47.1 507.700,44.300 511.9,48.1 516.1,46 521,49.800 521,56 497.8,56" fill="#12318e"/>
<path d="M527.5 31 V56.5 H553" fill="none" stroke="#7d7d7d" stroke-width="1"/>
<path d="M533.2 35.9 V51.9 M531.4 35.9 H535 M531.4 51.9 H535" stroke="#2f62d4" stroke-width="1" fill="none"/>
<rect x="531.2" y="39.7" width="4" height="6.5" fill="#b4cdfa" stroke="#2f62d4" stroke-width="1"/>
<line x1="531.2" y1="43.45" x2="535.2" y2="43.45" stroke="#2f62d4" stroke-width="1"/>
<path d="M540.7 32.2 V54.4 M538.9 32.2 H542.5 M538.9 54.4 H542.5" stroke="#2f62d4" stroke-width="1" fill="none"/>
<rect x="538.4" y="35.1" width="4.6" height="15.7" fill="#b4cdfa" stroke="#2f62d4" stroke-width="1"/>
<line x1="538.4" y1="43.45" x2="543" y2="43.45" stroke="#2f62d4" stroke-width="1"/>
<path d="M547.7 33.8 V48.5 M545.9 33.8 H549.5 M545.9 48.5 H549.5" stroke="#2f62d4" stroke-width="1" fill="none"/>
<rect x="545.7" y="37.6" width="4" height="7.6" fill="#b4cdfa" stroke="#2f62d4" stroke-width="1"/>
<line x1="545.7" y1="41.9" x2="549.7" y2="41.9" stroke="#2f62d4" stroke-width="1"/>
<path d="M557.8 31 V56.5 H583.3" fill="none" stroke="#7d7d7d" stroke-width="1"/>
<rect x="558.3" y="33.8" width="9.3" height="3.4" fill="#86b0f6" stroke="#3a6cd8" stroke-width="0.8"/>
<rect x="558.3" y="38" width="14.6" height="3.8" fill="#86b0f6" stroke="#3a6cd8" stroke-width="0.8"/>
<rect x="558.3" y="42.4" width="20.4" height="4" fill="#86b0f6" stroke="#3a6cd8" stroke-width="0.8"/>
<rect x="558.3" y="47" width="11.4" height="3.2" fill="#86b0f6" stroke="#3a6cd8" stroke-width="0.8"/>
<rect x="558.3" y="50.8" width="7.2" height="3.6" fill="#86b0f6" stroke="#3a6cd8" stroke-width="0.8"/>
<rect x="594.5" y="31.5" width="6.4" height="12.400" fill="#a9c8fa"/>
<rect x="600.8" y="31.5" width="6.4" height="12.400" fill="#3a72dc"/>
<rect x="607.1" y="31.5" width="6.4" height="12.400" fill="#8db2f2"/>
<rect x="613.4" y="31.5" width="6.4" height="12.400" fill="#5d8ee4"/>
<rect x="594.5" y="43.8" width="6.4" height="12.400" fill="#3a72dc"/>
<rect x="600.8" y="43.8" width="6.4" height="12.400" fill="#8db2f2"/>
<rect x="607.1" y="43.8" width="6.4" height="12.400" fill="#2f60c4"/>
<rect x="613.4" y="43.8" width="6.4" height="12.400" fill="#b9d2fa"/>
<rect x="594.5" y="31.500" width="25.4" height="24.8" fill="none" stroke="#8c8c8c" stroke-width="1"/>
<circle cx="636.8" cy="43.9" r="12.7" fill="#3a76de"/>
<path d="M636.8 43.9 L648.66 39.35 A12.7 12.7 0 0 0 625.59 37.94 Z" fill="#2252ba"/>
<path d="M636.8 43.9 L646.94 51.54 A12.7 12.7 0 0 0 648.66 39.35 Z" fill="#5a9ae8"/>
<path d="M636.8 43.9 L637.24 56.59 A12.7 12.7 0 0 0 646.94 51.54 Z" fill="#96bef8"/>
<rect x="655.6" y="32" width="12.1" height="11.3" fill="#8db2f2" stroke="#6e6e6e" stroke-width="0.9"/>
<rect x="667.7" y="32" width="11.1" height="11.3" fill="#3a76de" stroke="#6e6e6e" stroke-width="0.9"/>
<rect x="655.6" y="43.3" width="6.2" height="8.9" fill="#b4cef8" stroke="#6e6e6e" stroke-width="0.9"/>
<rect x="655.6" y="52.2" width="6.2" height="3.6" fill="#3a76de" stroke="#6e6e6e" stroke-width="0.9"/>
<rect x="661.8" y="43.3" width="10.4" height="12.5" fill="#6ba2f8" stroke="#6e6e6e" stroke-width="0.9"/>
<rect x="672.2" y="43.3" width="6.6" height="12.5" fill="#a9c8fa" stroke="#6e6e6e" stroke-width="0.9"/>
<rect x="684.8" y="32" width="7.7" height="7.5" fill="url(#gmos1)"/>
<rect x="684.8" y="39.5" width="7.7" height="6" fill="#12318e"/>
<rect x="684.8" y="45.5" width="7.7" height="10.3" fill="url(#gmos2)"/>
<rect x="684.8" y="32" width="7.7" height="23.8" fill="none" stroke="#8c8c8c" stroke-width="0.8"/>
<rect x="692.7" y="32" width="7.7" height="6.5" fill="url(#gmos1)"/>
<rect x="692.7" y="38.5" width="7.7" height="4" fill="#12318e"/>
<rect x="692.7" y="42.5" width="7.7" height="13.3" fill="url(#gmos2)"/>
<rect x="692.7" y="32" width="7.7" height="23.8" fill="none" stroke="#8c8c8c" stroke-width="0.8"/>
<rect x="700.6" y="32" width="7.7" height="11" fill="url(#gmos1)"/>
<rect x="700.6" y="43" width="7.7" height="4.5" fill="#12318e"/>
<rect x="700.6" y="47.5" width="7.7" height="8.3" fill="url(#gmos2)"/>
<rect x="700.6" y="32" width="7.7" height="23.8" fill="none" stroke="#8c8c8c" stroke-width="0.8"/>
<path d="M721.5 31 V56.5 H747.5" fill="none" stroke="#7d7d7d" stroke-width="1"/>
<rect x="732.5" y="31.5" width="14.800" height="10.3" fill="#fff" stroke="#1f4fb8" stroke-width="1.3"/>
<path d="M735 34.800 H738.5 M740.5 34.800 H742 M743 34.800 H745.500 M735 38.300 H738.5 M740.5 38.300 H742 M743 38.300 H745.500" stroke="#1f3f9a" stroke-width="1.3" fill="none"/>
<rect x="749.5" y="29" width="28.500" height="29.6" fill="#e4e4e4"/>
<path d="M751.500 31 V56.500 H777" fill="none" stroke="#bdbdbd" stroke-width="1"/>
<text x="752.6" y="45" font-family="Liberation Serif,serif" font-style="italic" font-weight="bold" font-size="17.5" fill="#dccb96" textLength="9.5" lengthAdjust="spacingAndGlyphs">f</text>
<text x="763.3" y="43.6" font-family="Liberation Sans,sans-serif" font-size="10.5" fill="#dccb96" textLength="10.5" lengthAdjust="spacingAndGlyphs">(•)</text>
<path d="M752.5 50 C756 47.500 759.5 47.300 763 49.500 S770.5 53 776.500 49.800" fill="none" stroke="#a9b9dc" stroke-width="1.1"/>
<rect x="780" y="30" width="28" height="27.6" fill="#a9b5d9" stroke="#0078d7" stroke-width="2"/>
<polygon points="782.500,32.300 791.500,32.300 795.3,41.200 784.500,48.500 781.5,48.500 781.5,37 782.500,37" fill="#5b86d2" stroke="#33486e" stroke-width="0.9" stroke-linejoin="round"/>
<polygon points="791.5,31.500 806.5,31.500 806.5,43.5 795.300,41.200" fill="#204a9c" stroke="#33486e" stroke-width="0.9" stroke-linejoin="round"/>
<polygon points="795.3,41.200 806.5,43.5 806.500,46.500 800,52 800,55.800 785.800,55.800 784.5,48.5" fill="#3a68c2" stroke="#33486e" stroke-width="0.9" stroke-linejoin="round"/>
<rect x="810.5" y="29" width="28.500" height="29.6" fill="#e4e4e4"/>
<path d="M813 32 V56 M825.500 32 V56 M838 32 V56 M813 32 H838 M813 56 H838" fill="none" stroke="#c2c2c2" stroke-width="1"/>
<path d="M813 33.500 L825.500 45.500 L838 33 M813 46 L825.5 41 L838 37 M813 52 L825.5 48.500 L838 55" fill="none" stroke="#b4c4e4" stroke-width="1.3"/>
</svg>
</body></html>
